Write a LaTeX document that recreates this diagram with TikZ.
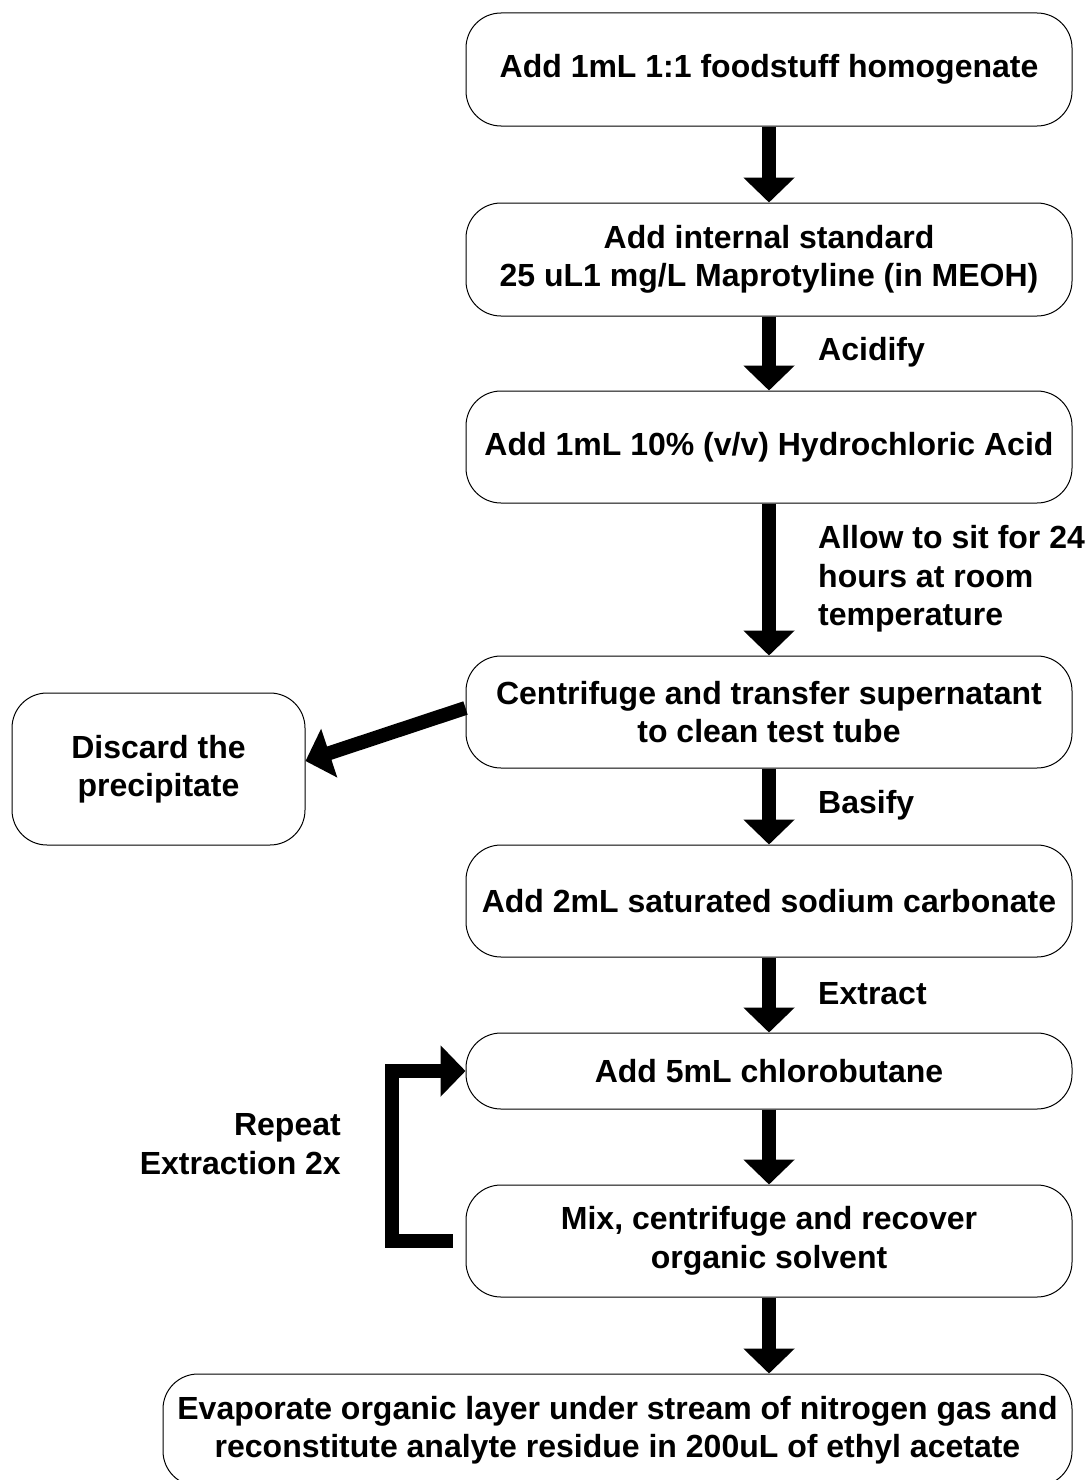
\documentclass[tikz,border=0pt]{standalone}
\usepackage{fontspec}
\setmainfont{Liberation Sans}
\usetikzlibrary{arrows.meta}
\tikzset{
    stepbox/.style={draw, line width=1pt, rounded corners=35pt, align=center, font=\bfseries, inner sep=0pt},
    fatarrow/.style={line width=14pt, -{Triangle[length=25pt, width=50pt]}},
    note/.style={font=\bfseries, align=left, inner sep=0pt}
}
\begin{document}
\fontsize{32pt}{38.5pt}\selectfont
\begin{tikzpicture}[x=1pt, y=-1pt]
        \useasboundingbox (0, 0) rectangle (1088, 1480);

        % main column
        \node[stepbox, minimum width=606pt, minimum height=113pt] (homog) at (769, 69.5) {Add 1mL 1:1 foodstuff homogenate};
        \node[stepbox, minimum width=606pt, minimum height=113pt] (istd) at (769, 259.5) {Add internal standard\\25 uL1 mg/L Maprotyline (in MEOH)};
        \node[stepbox, minimum width=606pt, minimum height=112pt] (hcl) at (769, 447) {Add 1mL 10\% (v/v) Hydrochloric Acid};
        \node[stepbox, minimum width=606pt, minimum height=112pt] (centri) at (769, 712) {Centrifuge and transfer supernatant\\to clean test tube};
        \node[stepbox, minimum width=606pt, minimum height=112pt] (carb) at (769, 901) {Add 2mL saturated sodium carbonate};
        \node[stepbox, minimum width=606pt, minimum height=76pt] (chloro) at (769, 1071) {Add 5mL chlorobutane};
        \node[stepbox, minimum width=606pt, minimum height=112pt] (mix) at (769, 1241) {Mix, centrifuge and recover\\organic solvent};
        \node[stepbox, minimum width=909pt, minimum height=112pt] (evap) at (617.5, 1430) {Evaporate organic layer under stream of nitrogen gas and\\reconstitute analyte residue in 200uL of ethyl acetate};

        % side box
        \node[stepbox, minimum width=293pt, minimum height=152pt] (discard) at (158.5, 769) {Discard the\\precipitate};

        % arrows down
        \draw[fatarrow] (homog) -- (istd);
        \draw[fatarrow] (istd) -- (hcl);
        \draw[fatarrow] (hcl) -- (centri);
        \draw[fatarrow] (centri) -- (carb);
        \draw[fatarrow] (carb) -- (chloro);
        \draw[fatarrow] (chloro) -- (mix);
        \draw[fatarrow] (mix.south) -- (mix.south |- evap.north);

        % to discard
        \draw[fatarrow] ([yshift=4pt]centri.west) -- ([yshift=8pt]discard.east);

        % repeat loop
        \draw[fatarrow, shorten <=13pt] (mix.west) -- ++(-74, 0) |- (chloro.west);

        % labels
        \node[note, anchor=west] (acid) at (818, 352) {Acidify};
        \node[note, anchor=west] (sit) at (818, 579) {Allow to sit for 24\\hours at room\\temperature};
        \node[note, anchor=west] (basify) at (818, 805) {Basify};
        \node[note, anchor=west] (extract) at (818, 994) {Extract};
        \node[note, anchor=east, align=right] (repeat) at (341, 1144) {Repeat\\Extraction 2x};
\end{tikzpicture}
\end{document}
